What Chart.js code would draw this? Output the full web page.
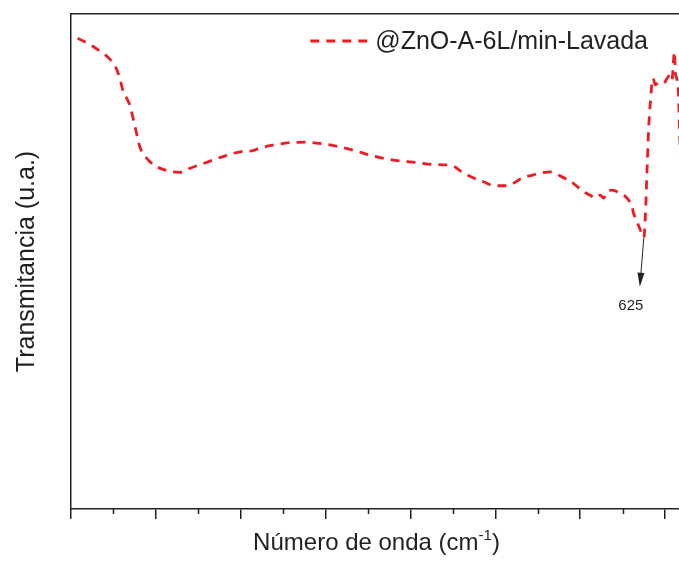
<!DOCTYPE html>
<html><head><meta charset="utf-8">
<script src="https://cdn.jsdelivr.net/npm/chart.js@4"></script>
<style>html,body{margin:0;padding:0;overflow:hidden;background:#fff;width:679px;height:565px}canvas{display:block}</style>
</head><body>
<canvas id="c" width="682" height="565"></canvas>
<script>
const seriesLabel = '@ZnO-A-6L/min-Lavada';
const wavenumbers = [3961,3872,3813,3784,3744,3725,3705,3695,3666,3652,3632,3620,3601,3587,3542,3508,3439,3361,3302,3203,3105,2997,2928,2889,2810,2712,2620,2505,2436,2338,2239,2180,2062,1964,1866,1757,1698,1630,1571,1502,1433,1394,1344,1276,1177,1118,1040,981,941,911,882,862,842,813,764,724,695,685,665,646,625,616,606,597,587,571,557,538,508,488,469,459,449,445,439,429,420,415,405,400];
const transmittance = [95.1,93.5,92.1,91.3,89.7,88.3,86.0,84.6,82.6,81.4,78.6,76.9,73.9,72.5,70.4,69.4,68.4,68.0,68.8,70.0,71.2,72.2,72.4,72.9,73.5,74.0,74.1,73.7,73.3,72.5,71.5,71.0,70.3,70.0,69.6,69.4,68.1,66.9,66.1,65.3,65.3,65.8,66.8,67.5,68.1,67.3,65.8,64.1,63.4,62.8,63.4,62.8,64.1,64.4,63.8,62.8,61.1,59.7,58.0,56.4,54.8,59.1,68.5,76.6,82.0,87.0,85.7,86.1,86.0,87.0,87.7,86.7,91.1,92.4,88.1,86.7,83.3,76.6,68.5,65.0];
const majorTicks = [4000,3500,3000,2500,2000,1500,1000,500];
const minorTicks = [3750,3250,2750,2250,1750,1250,750];
const peaks = [625];
const xTitleParts = ['Número de onda (cm', '-1', ')'];
const yTitle = 'Transmitancia (u.a.)';

const FONT = "'Liberation Sans', Arial, sans-serif";
const axisColor = '#222222';
const textColor = '#231f20';
const lineColor = 'rgb(237,28,36)';

const decor = {
  id: 'decor',
  afterDraw(chart) {
    const {ctx, chartArea: ca, scales: {x, y}} = chart;
    const ds = chart.data.datasets[0];
    ctx.save();
    // minor ticks
    ctx.strokeStyle = axisColor; ctx.lineWidth = 1.5;
    minorTicks.forEach(v => {
      const px = Math.round(x.getPixelForValue(v)) + 0.5;
      ctx.beginPath(); ctx.moveTo(px, ca.bottom); ctx.lineTo(px, ca.bottom + 5); ctx.stroke();
    });
    // x title with superscript
    const mainFont = '24px ' + FONT, supFont = '15px ' + FONT;
    ctx.fillStyle = textColor;
    ctx.textBaseline = 'alphabetic'; ctx.textAlign = 'left';
    ctx.font = mainFont; const w0 = ctx.measureText(xTitleParts[0]).width; const w2 = ctx.measureText(xTitleParts[2]).width;
    ctx.font = supFont; const w1 = ctx.measureText(xTitleParts[1]).width;
    const cx = (ca.left + ca.right) / 2;
    let tx = cx - (w0 + w1 + w2) / 2;
    const base = ca.bottom + 41;
    ctx.font = mainFont; ctx.fillText(xTitleParts[0], tx, base); tx += w0;
    ctx.font = supFont; ctx.fillText(xTitleParts[1], tx, base - 10); tx += w1;
    ctx.font = mainFont; ctx.fillText(xTitleParts[2], tx, base);
    // legend
    ctx.font = '25px ' + FONT;
    const lw = ctx.measureText(ds.label).width;
    const textRight = ca.right - 34;
    const textLeft = textRight - lw;
    const ly = ca.top + 27;
    ctx.textBaseline = 'middle';
    ctx.fillText(ds.label, textLeft, ly + 1);
    ctx.strokeStyle = ds.borderColor; ctx.lineWidth = ds.borderWidth;
    ctx.setLineDash(ds.borderDash);
    ctx.beginPath(); ctx.moveTo(textLeft - 65, ly); ctx.lineTo(textLeft - 7, ly); ctx.stroke();
    ctx.setLineDash([]);
    // peak arrows
    peaks.forEach(p => {
      const i = wavenumbers.indexOf(p);
      const sx = x.getPixelForValue(p), sy = y.getPixelForValue(transmittance[i]);
      const ex = sx - 4, ey = sy + 49;
      const ang = Math.atan2(ey - sy, ex - sx);
      ctx.strokeStyle = axisColor; ctx.fillStyle = axisColor; ctx.lineWidth = 1;
      ctx.beginPath(); ctx.moveTo(sx, sy); ctx.lineTo(ex - 10 * Math.cos(ang), ey - 10 * Math.sin(ang)); ctx.stroke();
      ctx.beginPath();
      ctx.moveTo(ex, ey);
      ctx.lineTo(ex - 14 * Math.cos(ang) + 3.5 * Math.sin(ang), ey - 14 * Math.sin(ang) - 3.5 * Math.cos(ang));
      ctx.lineTo(ex - 14 * Math.cos(ang) - 3.5 * Math.sin(ang), ey - 14 * Math.sin(ang) + 3.5 * Math.cos(ang));
      ctx.closePath(); ctx.fill();
      ctx.fillStyle = textColor;
      ctx.font = '15px ' + FONT; ctx.textAlign = 'center'; ctx.textBaseline = 'middle';
      ctx.fillText(String(p), ex - 9, ey + 19);
    });
    ctx.restore();
  }
};

new Chart(document.getElementById('c'), {
  type: 'line',
  data: {
    datasets: [{
      label: seriesLabel,
      data: wavenumbers.map((w, i) => ({x: w, y: transmittance[i]})),
      borderColor: lineColor,
      borderWidth: 2.8,
      borderDash: [9, 7],
      pointRadius: 0,
      fill: false,
      cubicInterpolationMode: 'monotone'
    }]
  },
  options: {
    responsive: false,
    animation: false,
    layout: {padding: {top: 14, left: 0, right: 0, bottom: 0}},
    plugins: {legend: {display: false}, tooltip: {enabled: false}},
    scales: {
      x: {
        type: 'linear', position: 'bottom', reverse: true, min: 400, max: 4000,
        afterBuildTicks: s => { s.ticks = majorTicks.map(v => ({value: v})); },
        afterFit: s => { s.height = 56; },
        ticks: {display: false},
        grid: {drawOnChartArea: false, drawTicks: true, tickLength: 10, color: axisColor, lineWidth: 1.5},
        border: {display: true, color: axisColor, width: 1.5}
      },
      xTop: {
        type: 'linear', position: 'top', min: 0, max: 1,
        afterFit: s => { s.height = 0; },
        ticks: {display: false},
        grid: {display: false, drawTicks: false},
        border: {display: true, color: axisColor, width: 1.5}
      },
      y: {
        min: 0, max: 100,
        afterFit: s => { s.width = 71; },
        ticks: {display: false},
        grid: {display: false, drawTicks: false},
        border: {display: true, color: axisColor, width: 1.5},
        title: {display: true, text: yTitle, color: textColor, font: {family: FONT, size: 25}, padding: {top: 12, bottom: 0}}
      }
    }
  },
  plugins: [decor]
});
</script>
</body></html>
